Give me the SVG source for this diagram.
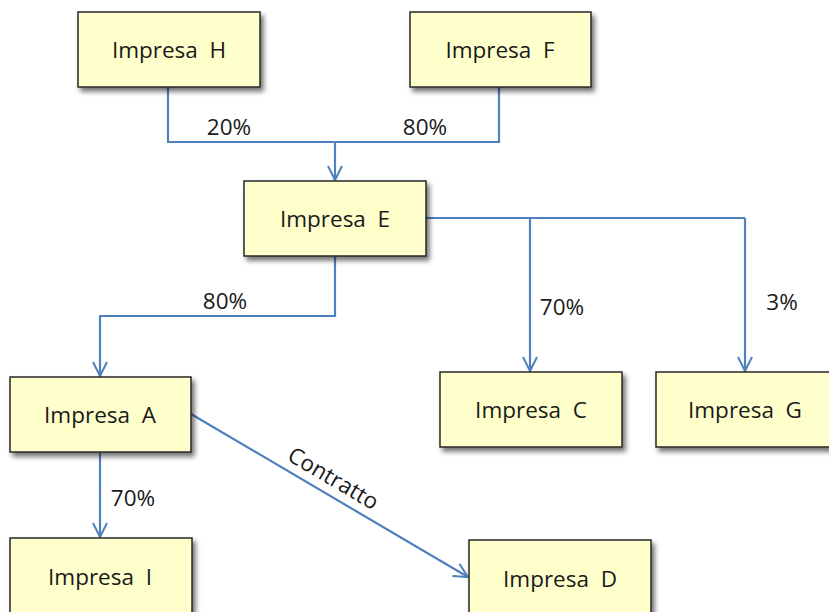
<svg xmlns="http://www.w3.org/2000/svg" width="829" height="612" viewBox="0 0 829 612">
<style>
.box{fill:#FFFFCC;stroke:#262626;stroke-width:1.5;filter:url(#sh)}
.lbl{font-family:"Open Sans","Liberation Sans",sans-serif;font-size:22.5px;fill:#1a1a1a;text-anchor:middle;white-space:pre}
.ln{fill:none;stroke:#4F81BD;stroke-width:2.2}
.arr{marker-end:url(#ah)}
</style>
<defs>
<filter id="sh" x="-10%" y="-10%" width="130%" height="140%">
<feDropShadow dx="3" dy="4" stdDeviation="2.5" flood-color="#000" flood-opacity="0.55"/>
</filter>
<marker id="ah" viewBox="0 0 16 16" refX="15" refY="8" markerWidth="16" markerHeight="16" markerUnits="userSpaceOnUse" orient="auto">
<path d="M1,1 L15,8 L1,15" fill="none" stroke="#4F81BD" stroke-width="2"/>
</marker>
</defs>
<rect width="829" height="612" fill="#fff"/>
<g id="connectors">
<path class="ln" d="M168,87 V142 H499 V87"/>
<path class="ln arr" d="M335,142 V180"/>
<path class="ln arr" d="M335,256 V316 H100 V376"/>
<path class="ln" d="M426,218 H745"/>
<path class="ln arr" d="M530,218 V371"/>
<path class="ln arr" d="M745,218 V371"/>
<path class="ln arr" d="M100,452 V537"/>
<path class="ln arr" d="M191,414 L468,577"/>
<text class="lbl" x="229" y="135">20%</text>
<text class="lbl" x="425" y="135">80%</text>
<text class="lbl" x="225" y="309">80%</text>
<text class="lbl" x="562" y="315">70%</text>
<text class="lbl" x="782" y="310">3%</text>
<text class="lbl" x="133" y="506">70%</text>
<text class="lbl" transform="translate(333,479) rotate(30.4)" x="0" y="7">Contratto</text>
</g>
<g id="nodeH"><rect class="box" x="78" y="12" width="182" height="75"/><text class="lbl" x="169" y="58">Impresa  H</text></g>
<g id="nodeF"><rect class="box" x="410" y="12" width="181" height="75"/><text class="lbl" x="500" y="58">Impresa  F</text></g>
<g id="nodeE"><rect class="box" x="244" y="181" width="182" height="75"/><text class="lbl" x="335" y="227">Impresa  E</text></g>
<g id="nodeA"><rect class="box" x="10" y="377" width="181" height="75"/><text class="lbl" x="100" y="423">Impresa  A</text></g>
<g id="nodeC"><rect class="box" x="440" y="372" width="182" height="75"/><text class="lbl" x="531" y="418">Impresa  C</text></g>
<g id="nodeG"><rect class="box" x="656" y="372" width="182" height="75"/><text class="lbl" x="745" y="418">Impresa  G</text></g>
<g id="nodeI"><rect class="box" x="10" y="538" width="182" height="80"/><text class="lbl" x="100" y="585">Impresa  I</text></g>
<g id="nodeD"><rect class="box" x="469" y="540" width="182" height="80"/><text class="lbl" x="560" y="587">Impresa  D</text></g>
</svg>
